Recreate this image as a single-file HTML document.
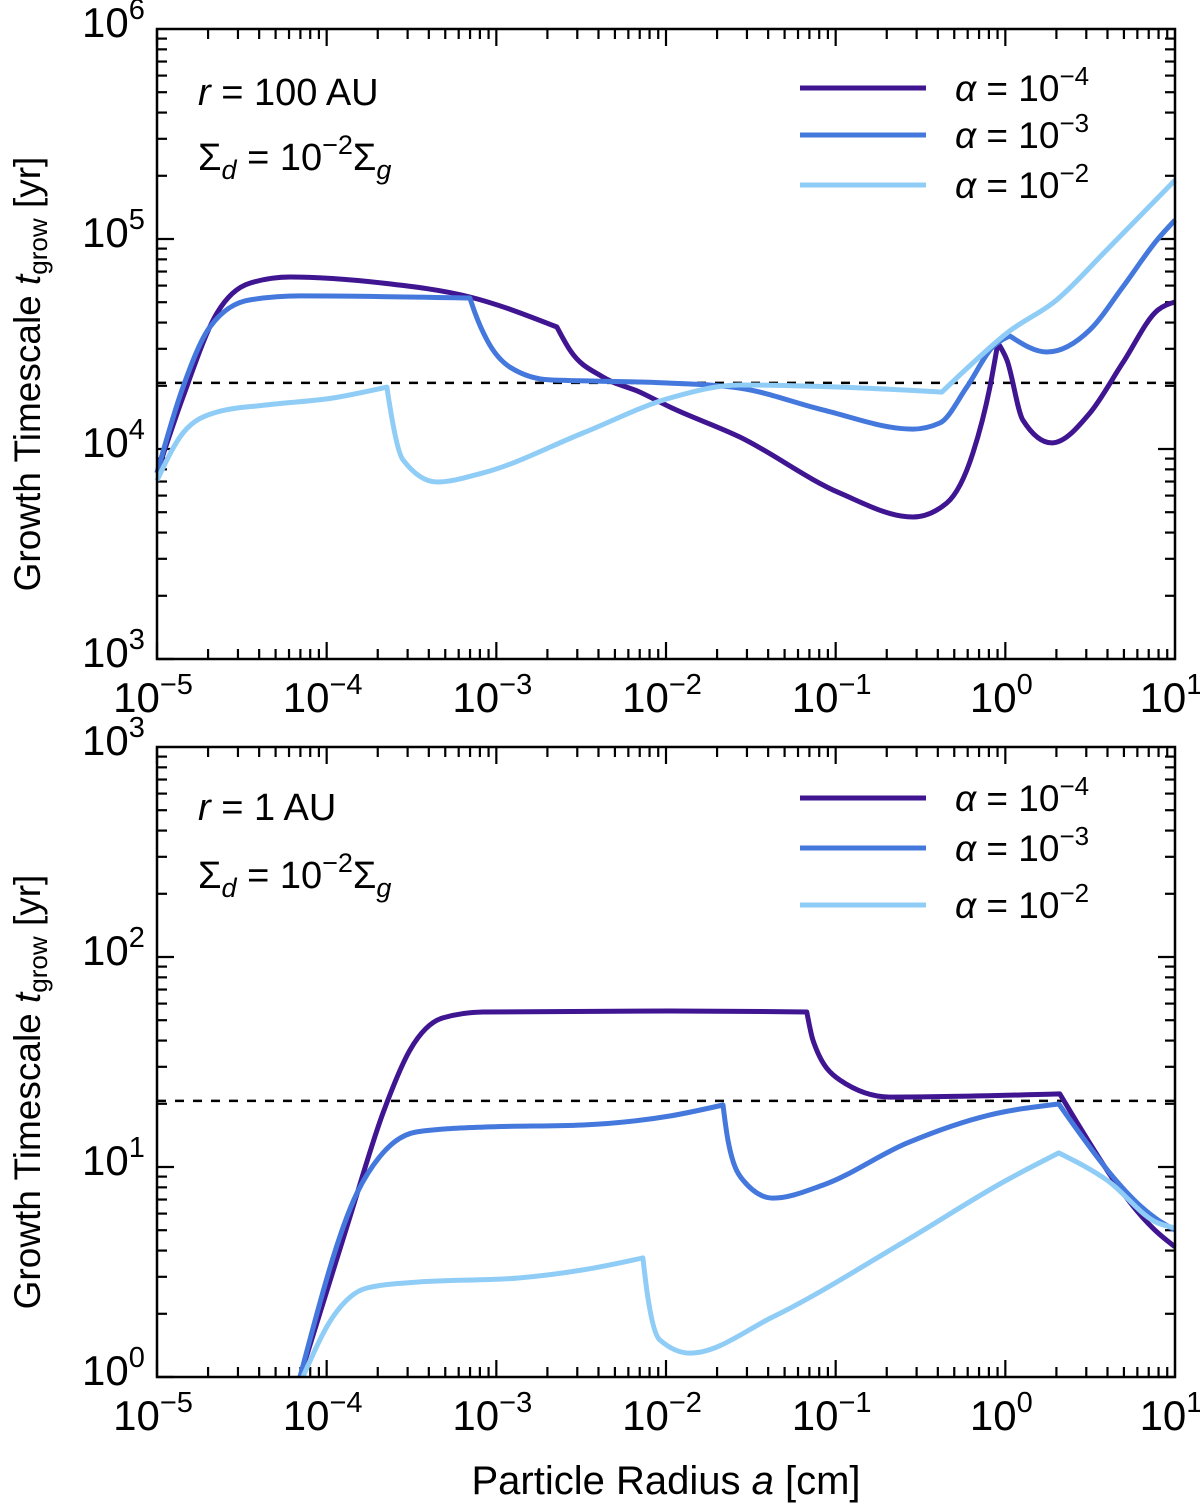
<!DOCTYPE html>
<html><head><meta charset="utf-8"><style>
body{margin:0;background:#fff}
svg{display:block;font-family:"Liberation Sans",sans-serif}
</style></head><body>
<svg id="chart" width="1200" height="1504" viewBox="0 0 1200 1504" xmlns="http://www.w3.org/2000/svg"></svg>
<script>
// x values are log10(a [cm]); y values are log10(t_grow [yr])
const xTickExps = [-5,-4,-3,-2,-1,0,1];
const topYTickExps = [3,4,5,6];
const botYTickExps = [0,1,2,3];
const alphaLabels = ["-4","-3","-2"];
const dashedLevel = 1.315;
const top_a4_x = [-5,-4.847,-4.646,-4.452,-4.216,-3.668,-3.156,-2.643,-2.566,-2.372,-2.154,-1.977,-1.565,-0.975,-0.545,-0.345,-0.191,-0.091,-0.044,0.009,0.103,0.274,0.498,0.692,0.899,1];
const top_a4_y = [3.886,4.248,4.648,4.79,4.819,4.79,4.724,4.581,4.471,4.343,4.271,4.2,4.057,3.79,3.676,3.743,3.981,4.295,4.505,4.424,4.138,4.029,4.171,4.41,4.662,4.70];
const top_a4_breaks = [7,18];
const top_a3_x = [-5,-4.847,-4.688,-4.452,-4.157,-3.156,-3.126,-3.055,-2.92,-2.684,-2.154,-1.977,-1.565,-1.075,-0.545,-0.386,-0.227,-0.074,0.027,0.245,0.498,0.692,0.899,1];
const top_a3_y = [3.886,4.295,4.581,4.71,4.729,4.719,4.648,4.519,4.39,4.329,4.319,4.314,4.29,4.186,4.095,4.124,4.295,4.486,4.538,4.462,4.567,4.771,5.0,5.09];
const top_a3_breaks = [5,18];
const top_a2_x = [-5,-4.847,-4.646,-4.352,-3.963,-3.645,-3.627,-3.55,-3.35,-3.079,-2.49,-1.977,-1.565,-0.975,-0.374,-0.191,0.009,0.303,0.598,1];
const top_a2_y = [3.85,4.076,4.176,4.21,4.243,4.295,4.2,3.948,3.843,3.886,4.076,4.243,4.305,4.295,4.271,4.41,4.552,4.71,4.948,5.28];
const top_a2_breaks = [5,14];
const bot_a4_x = [-4.157,-3.863,-3.668,-3.509,-3.315,-3.079,-1.977,-1.17,-1.134,-0.975,-0.681,0.321,0.899,1];
const bot_a4_y = [0.0,0.762,1.257,1.557,1.71,1.738,1.743,1.738,1.605,1.414,1.333,1.348,0.686,0.62];
const bot_a4_breaks = [7,11];
const bot_a3_x = [-4.157,-3.821,-3.668,-3.468,-3.079,-2.49,-1.977,-1.664,-1.635,-1.547,-1.37,-1.075,-0.58,-0.091,0.315,0.899,1];
const bot_a3_y = [0.0,0.876,1.067,1.167,1.19,1.2,1.243,1.295,1.129,0.938,0.852,0.914,1.114,1.248,1.3,0.748,0.70];
const bot_a3_breaks = [7,14];
const bot_a2_x = [-4.14,-3.963,-3.762,-3.468,-2.879,-2.49,-2.136,-2.113,-2.036,-1.859,-1.37,-0.58,0.009,0.315,0.598,0.899,1];
const bot_a2_y = [0.0,0.286,0.424,0.452,0.471,0.51,0.567,0.414,0.176,0.114,0.286,0.652,0.938,1.067,0.938,0.733,0.71];
const bot_a2_breaks = [6,13];

const NS="http://www.w3.org/2000/svg";
const svg=document.getElementById('chart');
const colors=["#3f1591","#4478dd","#90cdf6"];
const X0=157,X1=1175;
const sx=v=>X0+(v-(-5))*(X1-X0)/6;
function mk(tag,attrs,parent){const e=document.createElementNS(NS,tag);for(const k in attrs)e.setAttribute(k,attrs[k]);(parent||svg).appendChild(e);return e;}

function monoPath(P){
  const n=P.length; if(n<2) return '';
  if(n==2) return 'L'+P[1][0].toFixed(1)+','+P[1][1].toFixed(1);
  const h=[],s=[];
  for(let i=0;i<n-1;i++){h[i]=P[i+1][0]-P[i][0];s[i]=(P[i+1][1]-P[i][1])/h[i];}
  const t=[];
  for(let i=1;i<n-1;i++){
    if(s[i-1]*s[i]<=0){t[i]=0;continue;}
    const p=(s[i-1]*h[i]+s[i]*h[i-1])/(h[i-1]+h[i]);
    t[i]=(Math.sign(s[i-1])+Math.sign(s[i]))*Math.min(Math.abs(s[i-1]),Math.abs(s[i]),0.5*Math.abs(p));
  }
  t[0]=(3*s[0]-t[1])/2; t[n-1]=(3*s[n-2]-t[n-2])/2;
  let d='';
  for(let i=0;i<n-1;i++){
    const dx=h[i]/3;
    d+='C'+(P[i][0]+dx).toFixed(1)+','+(P[i][1]+dx*t[i]).toFixed(1)+' '+(P[i+1][0]-dx).toFixed(1)+','+(P[i+1][1]-dx*t[i+1]).toFixed(1)+' '+P[i+1][0].toFixed(1)+','+P[i+1][1].toFixed(1);
  }
  return d;
}

function panel(name,top,bottom,yMin,yExps,series,dashY,annot,legY){
  const g=mk('g',{});
  
  
  const sy=v=>bottom-(v-yMin)*(bottom-top)/3;
  for(let d=-5;d<1;d++){for(let m=1;m<10;m++){const v=d+Math.log10(m);const x=sx(v);const L=m==1?17:10;
    mk('line',{x1:x,y1:bottom,x2:x,y2:bottom-L,stroke:'#000','stroke-width':2.2},g);
    mk('line',{x1:x,y1:top,x2:x,y2:top+L,stroke:'#000','stroke-width':2.2},g);}}
  for(let d=yMin;d<yMin+3;d++){for(let m=1;m<10;m++){const v=d+Math.log10(m);const y=sy(v);const L=m==1?17:10;
    mk('line',{x1:X0,y1:y,x2:X0+L,y2:y,stroke:'#000','stroke-width':2.2},g);
    mk('line',{x1:X1,y1:y,x2:X1-L,y2:y,stroke:'#000','stroke-width':2.2},g);}}
  const dl=mk('line',{x1:X0,y1:sy(dashY),x2:X1,y2:sy(dashY),stroke:'#000','stroke-width':2.5,'stroke-dasharray':'9,9'},g);
  
  
  series.forEach((s,i)=>{
    const pts=s[0].map((xv,j)=>[sx(xv),sy(s[1][j])]);
    const cuts=[0,...s[2],pts.length-1];
    let d='M'+pts[0][0].toFixed(1)+','+pts[0][1].toFixed(1);
    for(let k=0;k<cuts.length-1;k++) d+=monoPath(pts.slice(cuts[k],cuts[k+1]+1));
    const p=mk('path',{d:d,fill:'none',stroke:colors[i],'stroke-width':5,'stroke-linejoin':'round','stroke-linecap':'butt'},g);
    
    
  });
  mk('rect',{x:X0,y:top,width:X1-X0,height:bottom-top,fill:'none',stroke:'#000','stroke-width':2.5},g);
  xTickExps.forEach(e=>{const t=mk('text',{x:sx(e)-4,y:bottom+53,'font-size':42,'text-anchor':'middle'},g);
    
    t.innerHTML='10<tspan font-size="29" dy="-18">'+(e<0?'\u2212'+(-e):e)+'</tspan>';});
  yExps.forEach(e=>{const t=mk('text',{x:X0-44,y:sy(e)+8,'font-size':42},g);
    
    t.innerHTML='<tspan x="'+(X0-75)+'">10</tspan><tspan font-size="29" dy="-18">'+e+'</tspan>';});
  const a1=mk('text',{x:198,y:annot[0],'font-size':38},g);
  
  a1.innerHTML='<tspan font-style="italic">r</tspan> = '+annot[2];
  const a2=mk('text',{x:198,y:annot[1],'font-size':38},g);
  
  a2.innerHTML='\u03A3<tspan font-style="italic" font-size="27" dy="9">d</tspan><tspan dy="-9"> = 10</tspan><tspan font-size="27" dy="-16">\u22122</tspan><tspan dy="16">\u03A3</tspan><tspan font-style="italic" font-size="27" dy="9">g</tspan>';
  legY.forEach((ly,i)=>{
    const l=mk('line',{x1:800,y1:ly,x2:926,y2:ly,stroke:colors[i],'stroke-width':5},g);
    
    const t=mk('text',{x:955,y:ly+13,'font-size':37},g);
    
    t.innerHTML='<tspan font-style="italic">\u03B1</tspan> = 10<tspan font-size="26" dy="-16">\u2212'+alphaLabels[i].slice(1)+'</tspan>';
  });
  const yt=mk('text',{x:0,y:0,'font-size':37,'text-anchor':'middle',transform:'translate(40,'+((top+bottom)/2+30)+') rotate(-90)'},g);
  
  yt.innerHTML='Growth Timescale  <tspan font-style="italic">t</tspan><tspan font-size="26" dy="7">grow</tspan><tspan dy="-7"> [yr]</tspan>';
}
panel('top-panel-100au',29,659,3,topYTickExps,[[top_a4_x,top_a4_y,top_a4_breaks],[top_a3_x,top_a3_y,top_a3_breaks],[top_a2_x,top_a2_y,top_a2_breaks]],dashedLevel+3,[105,170,'100 AU'],[88,135,185]);
panel('bottom-panel-1au',747,1377,0,botYTickExps,[[bot_a4_x,bot_a4_y,bot_a4_breaks],[bot_a3_x,bot_a3_y,bot_a3_breaks],[bot_a2_x,bot_a2_y,bot_a2_breaks]],dashedLevel,[820,888,'1 AU'],[798,848,905]);
const xt=mk('text',{x:666,y:1494,'font-size':40,'text-anchor':'middle','xml:space':'preserve'});


xt.innerHTML='Particle Radius  <tspan font-style="italic">a</tspan>  [cm]';
</script>
</body></html>
